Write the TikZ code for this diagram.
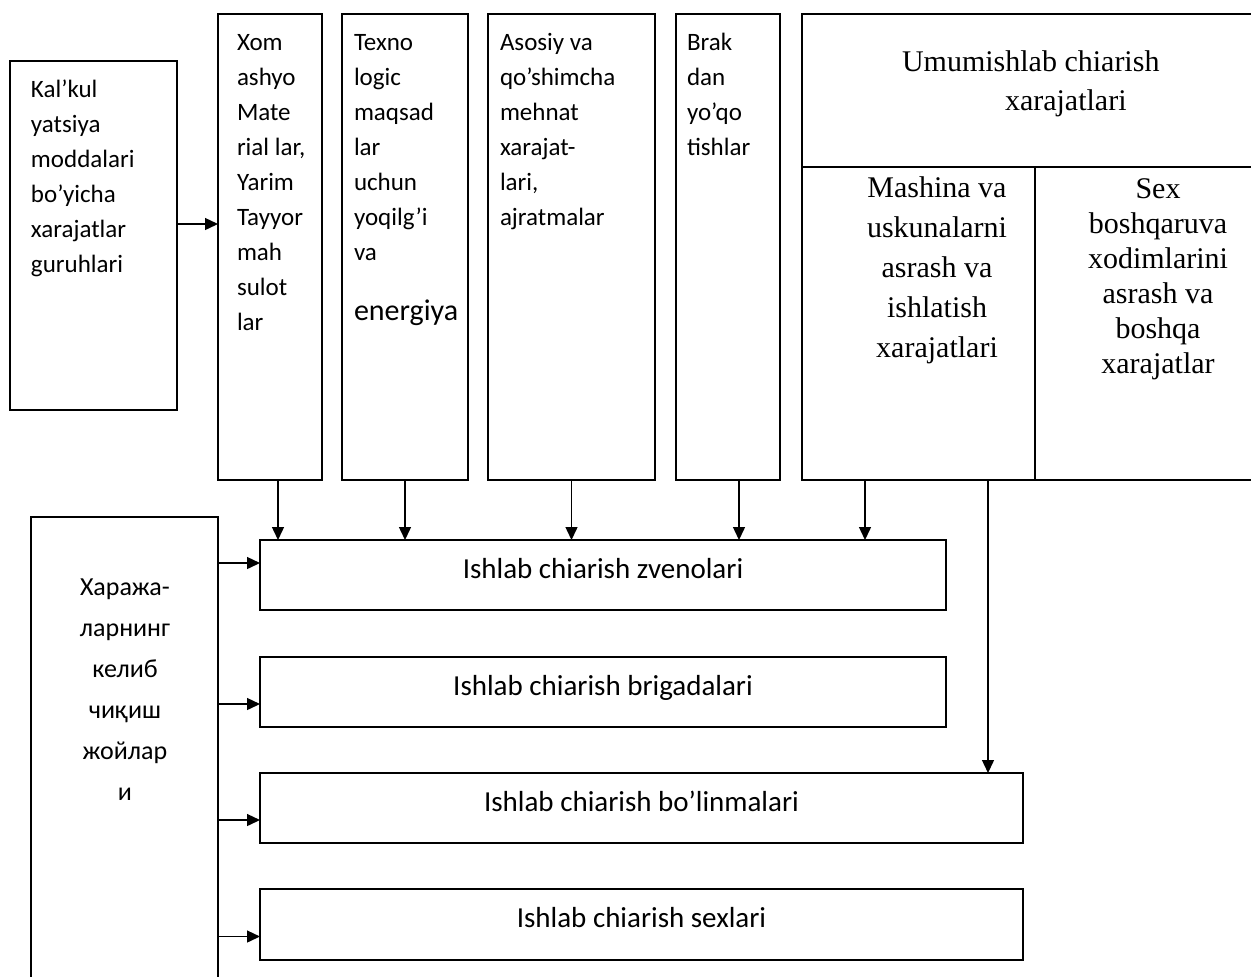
\documentclass[tikz,border=0pt]{standalone}
\usepackage{fontspec}
\setmainfont{Liberation Serif}
\newfontfamily\calibri{Carlito}
\usetikzlibrary{positioning,fit,calc,arrows.meta}

\tikzset{
  box/.style={draw, line width=0.9pt, inner sep=0, outer sep=0},
  arr/.style={-{Triangle[length=6.5pt,width=6pt]}, line width=0.7pt},
  txt/.style={inner sep=0, outer sep=0, align=left, anchor=base west,
    font=\calibri\fontsize{12.5}{17.5}\selectfont},
  tms/.style={inner sep=0, outer sep=0, align=center, anchor=base,
    font=\fontsize{15}{20}\selectfont},
  bar/.style={box, font=\calibri\fontsize{14.5}{17}\selectfont,
    text height=10pt, text depth=7pt}
}

\begin{document}
\begin{tikzpicture}[x=0.5pt, y=-0.5pt]
\clip (0,0) rectangle (1251,976);

% top row of cost groups
\node[box, fit={(10,61) (177,410)}] (kal) {};
\node[box, fit={(218,14) (322,480)}] (xom) {};
\node[box, fit={(342,14) (468,480)}] (tex) {};
\node[box, fit={(488,14) (655,480)}] (aso) {};
\node[box, fit={(676,14) (780,480)}] (brk) {};
\node[box, fit={(802,14) (1262,167)}] (ums) {};
\node[box, fit={(802,167) (1035,480)}] (mash) {};
\node[box, fit={(1035,167) (1262,480)}] (sex) {};

% (base = last line)
\node[txt] (kaltxt) at (31,272) {Kal’kul\\yatsiya\\moddalari\\bo’yicha\\xarajatlar\\guruhlari};
\node[txt] (xomtxt) at (237,330) {Xom\\ashyo\\Mate\\rial lar,\\Yarim\\Tayyor\\mah\\sulot\\lar};
\node[txt] (textxt) at (354,320) {Texno\\logic\\maqsad\\lar\\uchun\\yoqilg’i\\va\\[12.5pt]\fontsize{15}{17.5}\selectfont energiya};
\node[txt] (asotxt) at (500,225) {Asosiy va\\qo’shimcha\\mehnat\\xarajat-\\lari,\\ajratmalar};
\node[txt] (brktxt) at (687,155) {Brak\\dan\\yo’qo\\tishlar};

\node[tms, align=left, anchor=base west, font=\fontsize{15}{19.5}\selectfont] (umstxt) at (902,110)
  {Umumishlab chiarish\\\hspace*{51.5pt}xarajatlari};
\node[tms] (mashtxt) at (937,357) {Mashina va\\uskunalarni\\asrash va\\ishlatish\\xarajatlari};
\node[tms, font=\fontsize{15}{17.5}\selectfont] (sextxt) at (1158,373)
  {Sex\\boshqaruva\\xodimlarini\\asrash va\\boshqa\\xarajatlar};

% production levels
\node[box, fit={(31,517) (218,995)}] (xar) {};
\node[txt, align=center, anchor=base, font=\calibri\fontsize{13}{20.5}\selectfont] (xartxt) at (125,800)
  {Хаража-\\ларнинг\\келиб\\чиқиш\\жойлар\\и};

\node[bar, minimum width=343pt, minimum height=35pt] (b1) at (603,575) {Ishlab chiarish zvenolari};
\node[bar, minimum width=343pt, minimum height=35pt] (b2) at (603,692) {Ishlab chiarish brigadalari};
\node[bar, minimum width=381.5pt, minimum height=35pt] (b3) at (641.5,808) {Ishlab chiarish bo’linmalari};
\node[bar, minimum width=381.5pt, minimum height=35.5pt] (b4) at (641.5,924.5) {Ishlab chiarish sexlari};

% connectors
\draw[arr] ([yshift=5.75pt]kal.east) -- ([yshift=5.75pt]kal.east -| xom.west);

\draw[arr] ([xshift=4pt]xom.south) -- ([xshift=4pt]xom.south |- b1.north);
\draw[arr] (tex.south) -- (tex.south |- b1.north);
\draw[arr] (aso.south) -- (aso.south |- b1.north);
\draw[arr] ([xshift=5.5pt]brk.south) -- ([xshift=5.5pt]brk.south |- b1.north);
\draw[arr] ([xshift=-26.75pt]mash.south) -- ([xshift=-26.75pt]mash.south |- b1.north);
\draw[arr] ([xshift=34.75pt]mash.south) -- ([xshift=34.75pt]mash.south |- b3.north);

\draw[arr] ([yshift=6pt]b1.west -| xar.east) -- ([yshift=6pt]b1.west);
\draw[arr] ([yshift=-6pt]b2.west -| xar.east) -- ([yshift=-6pt]b2.west);
\draw[arr] ([yshift=-6pt]b3.west -| xar.east) -- ([yshift=-6pt]b3.west);
\draw[arr] ([yshift=-6pt]b4.west -| xar.east) -- ([yshift=-6pt]b4.west);

\end{tikzpicture}
\end{document}
